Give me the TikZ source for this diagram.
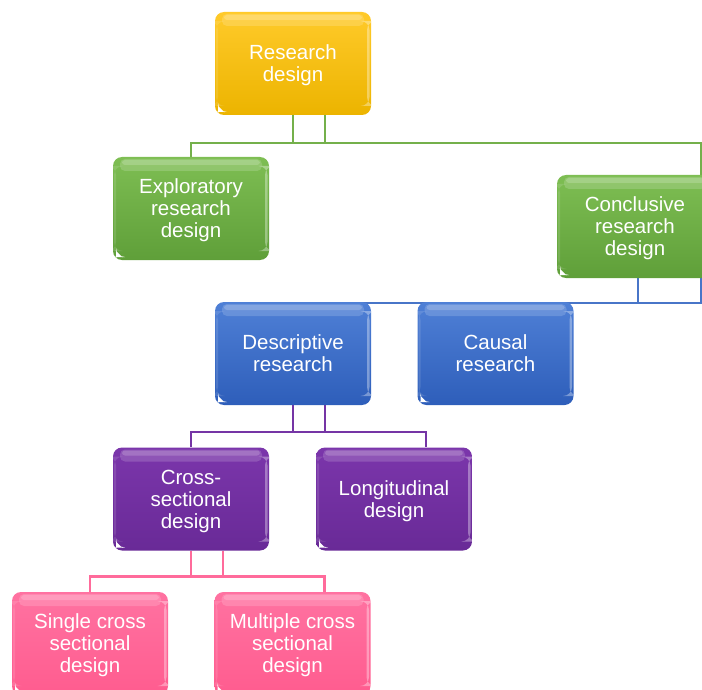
\documentclass[tikz,border=0pt]{standalone}
\usepackage{fontspec}
\setmainfont{Liberation Sans}
\usetikzlibrary{backgrounds}

\definecolor{goldT}{HTML}{FFCA2A}
\definecolor{goldB}{HTML}{ECB400}
\definecolor{leafT}{HTML}{7EBE53}
\definecolor{leafB}{HTML}{5F9F39}
\definecolor{seaT}{HTML}{4F80D6}
\definecolor{seaB}{HTML}{2E5EBA}
\definecolor{plumT}{HTML}{7B36AB}
\definecolor{plumB}{HTML}{692A97}
\definecolor{roseT}{HTML}{FF72A1}
\definecolor{roseB}{HTML}{FF5C8F}
\definecolor{leafLine}{HTML}{74B04B}
\definecolor{seaLine}{HTML}{4875C8}
\definecolor{plumLine}{HTML}{7535A5}
\definecolor{roseLine}{HTML}{FF6B9B}

\tikzset{
  gbox/.style 2 args={
    rounded corners=9pt, top color=#1, bottom color=#2, draw=none,
    minimum width=156pt, minimum height=103pt, inner sep=0pt,
    align=center, text=white,
    font=\fontsize{20.5}{22}\selectfont,
    text depth=-5pt,
    path picture={
      % glossy band along the top edge, brightest at its upper rim
      \fill[white,opacity=.16,rounded corners=5pt]
        ([xshift=7pt,yshift=-2pt]path picture bounding box.north west) rectangle
        ([xshift=-7pt,yshift=-14pt]path picture bounding box.north east);
      \fill[white,opacity=.18,rounded corners=3pt]
        ([xshift=9pt,yshift=-3pt]path picture bounding box.north west) rectangle
        ([xshift=-9pt,yshift=-8pt]path picture bounding box.north east);
      % lit rim on the right side
      \fill[white,opacity=.35]
        ([xshift=-4pt,yshift=-9pt]path picture bounding box.north east) rectangle
        ([xshift=-1.5pt,yshift=9pt]path picture bounding box.south east);
      % faint rim on the left side
      \fill[white,opacity=.12]
        ([xshift=1pt,yshift=-9pt]path picture bounding box.north west) rectangle
        ([xshift=3pt,yshift=9pt]path picture bounding box.south west);
      % small light wedge in the lower left corner
      \fill[white]
        ([xshift=3pt,yshift=3pt]path picture bounding box.south west)
        -- ++(0pt,6pt) -- ++(6pt,-6pt) -- cycle;
    }},
  link/.style={line width=2.5pt}
}

\begin{document}
\begin{tikzpicture}[x=1pt,y=-1pt]
\useasboundingbox (0,0) rectangle (702,690);
\clip (0,0) rectangle (702,690);

% level 0
\node[gbox={goldT}{goldB}] (rd) at (293,63.5) {Research\\design};
% level 1
\node[gbox={leafT}{leafB}] (ex) at (191,208.5) {Exploratory\\research\\design};
\node[gbox={leafT}{leafB}] (cn) at (635,226.5) {Conclusive\\research\\design};
% level 2
\node[gbox={seaT}{seaB}] (de) at (293,353.5) {Descriptive\\research};
\node[gbox={seaT}{seaB}] (ca) at (495.5,353.5) {Causal\\research};
% level 3
\node[gbox={plumT}{plumB}] (cs) at (191,499) {Cross-\\sectional\\design};
\node[gbox={plumT}{plumB}] (lo) at (394,499) {Longitudinal\\design};
% level 4
\node[gbox={roseT}{roseB}] (sc) at (90,643.5) {Single cross\\sectional\\design};
\node[gbox={roseT}{roseB}] (mc) at (292.5,643.5) {Multiple cross\\sectional\\design};

\begin{scope}[on background layer]
  % research design -> exploratory / conclusive
  \draw[link,leafLine] ([xshift=32pt]rd.south) -- ++(0,28) -| (ex.north);
  \draw[link,leafLine] (rd.south) -- ++(0,28) -| ([xshift=66pt]cn.north);
  % conclusive -> descriptive / causal
  \draw[link,seaLine] ([xshift=3pt]cn.south) -- ++(0,25) -| (de.north);
  \draw[link,seaLine] ([xshift=66pt]cn.south) -- ++(0,25) -| (ca.north);
  % descriptive -> cross-sectional / longitudinal
  \draw[link,plumLine] ([xshift=32pt]de.south) -- ++(0,27) -| (cs.north);
  \draw[link,plumLine] (de.south) -- ++(0,27) -| ([xshift=32pt]lo.north);
  % cross-sectional -> single / multiple
  \draw[link,roseLine] ([xshift=32pt]cs.south) -- ++(0,26) -| (sc.north);
  \draw[link,roseLine] (cs.south) -- ++(0,26) -| ([xshift=32pt]mc.north);
\end{scope}
\end{tikzpicture}
\end{document}
